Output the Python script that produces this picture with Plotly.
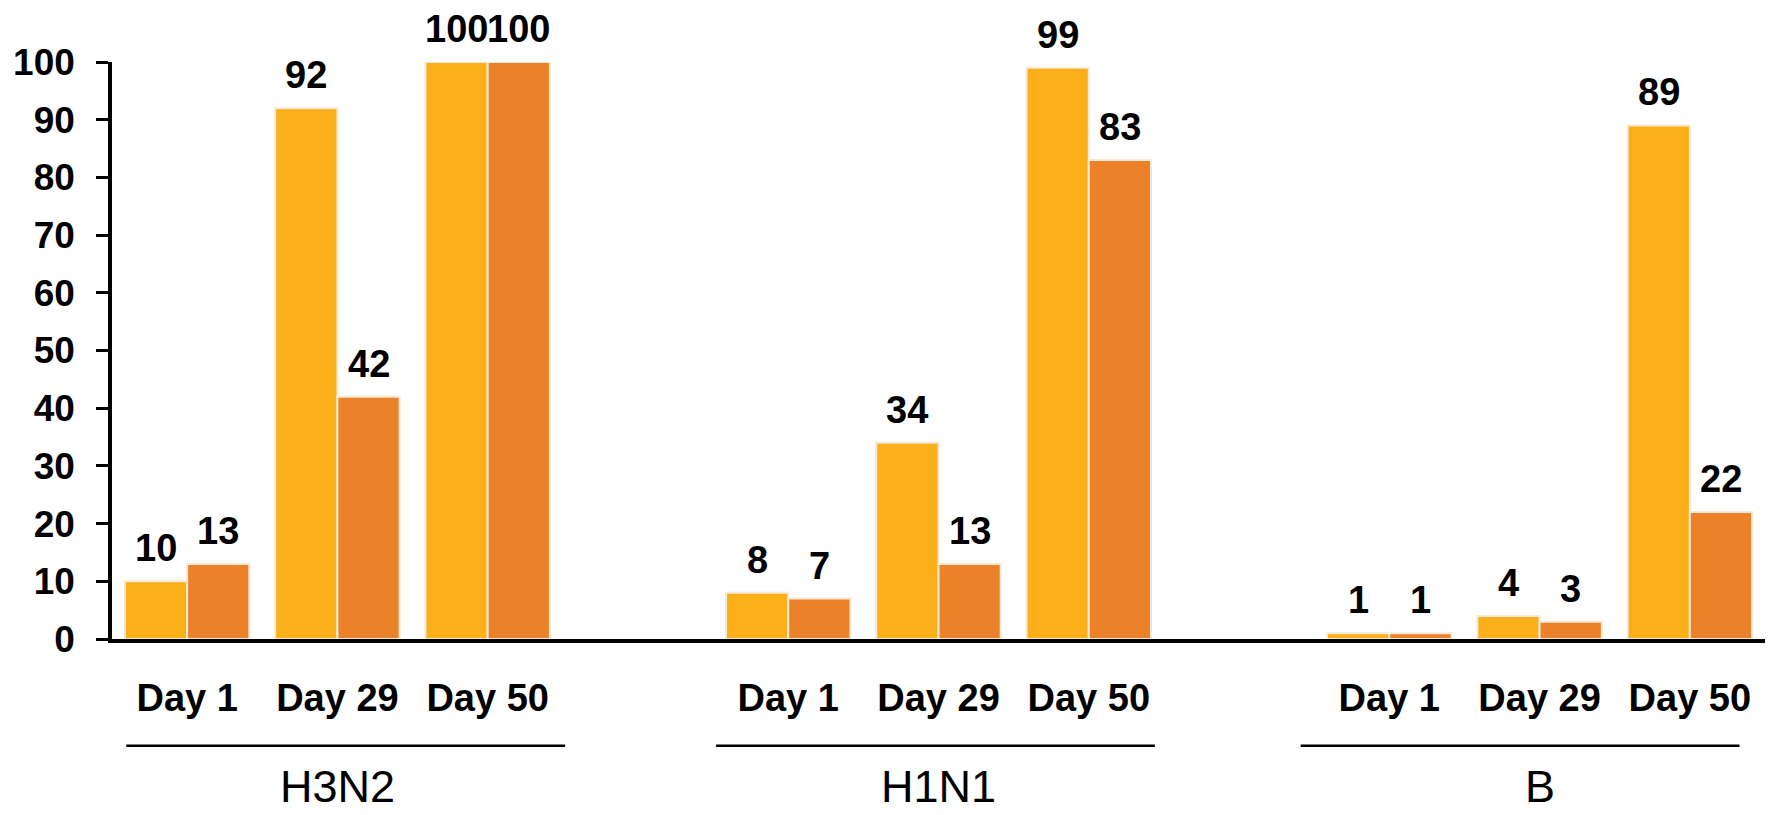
import plotly.graph_objects as go

groups = ["H3N2", "H1N1", "B"]
days = ["Day 1", "Day 29", "Day 50"]
series_a = [10, 92, 100, 8, 34, 99, 1, 4, 89]   # yellow bars
series_b = [13, 42, 100, 7, 13, 83, 1, 3, 22]   # orange bars
y_ticks = list(range(0, 101, 10))

# x positions: three days per group, one empty slot between groups
xpos = []
for gi in range(len(groups)):
    for di in range(len(days)):
        xpos.append(gi * (len(days) + 1) + di)
tick_text = days * len(groups)

FONT = "Liberation Sans, Arial, sans-serif"
YELLOW = "#FBAF19"
ORANGE = "#EB8128"
EDGE = "#F3E9D6"
BARGAP = 0.172
LINE_HALF = 1.46                      # half-length of the group underline (x units)
LINE_SHIFT = [0.055, -0.02, -0.13]    # small hand-drawn offsets of the underlines

fig = go.Figure()
fig.add_trace(go.Bar(x=xpos, y=series_a, marker=dict(color=YELLOW, line=dict(color=EDGE, width=2)),
                     hoverinfo="skip"))
fig.add_trace(go.Bar(x=xpos, y=series_b, marker=dict(color=ORANGE, line=dict(color=EDGE, width=2)),
                     hoverinfo="skip"))

bw = (1 - BARGAP) / 2
annotations = []
for s_i, series in enumerate([series_a, series_b]):
    off = -bw / 2 if s_i == 0 else bw / 2
    for x, v in zip(xpos, series):
        annotations.append(dict(x=x + off, y=v, xref="x", yref="y", text=str(v), showarrow=False,
                                yanchor="bottom", yshift=10,
                                font=dict(family=FONT, size=38, color="black", weight="bold")))

shapes = []
for gi, g in enumerate(groups):
    center = xpos[gi * len(days) + 1]
    c = center + LINE_SHIFT[gi]
    shapes.append(dict(type="line", xref="x", yref="paper", x0=c - LINE_HALF, x1=c + LINE_HALF,
                       y0=-0.185, y1=-0.185, line=dict(color="black", width=2.5)))
    annotations.append(dict(x=center, y=-0.256, xref="x", yref="paper", text=g, showarrow=False,
                            yanchor="middle", font=dict(family=FONT, size=45, color="black")))

fig.update_layout(
    width=1765, height=807,
    margin=dict(l=96, r=5, t=54, b=176),
    paper_bgcolor="white", plot_bgcolor="white",
    barmode="group", bargap=BARGAP, bargroupgap=0,
    showlegend=False,
    annotations=annotations, shapes=shapes,
    xaxis=dict(range=[-0.5, 10.52], tickvals=xpos, ticktext=tick_text, showgrid=False, zeroline=False,
               showline=True, linecolor="black", linewidth=3.5, ticks="", ticklabelstandoff=23,
               tickfont=dict(family=FONT, size=38, color="black", weight="bold")),
    yaxis=dict(range=[0, 100], tickvals=y_ticks, showgrid=False, zeroline=False,
               showline=True, linecolor="black", linewidth=3.5, ticks="outside", ticklen=12,
               tickwidth=3, tickcolor="black", ticklabelstandoff=14,
               tickfont=dict(family=FONT, size=37, color="black", weight="bold")),
)
fig.update_traces(cliponaxis=False)

fig.write_html("out.html")
